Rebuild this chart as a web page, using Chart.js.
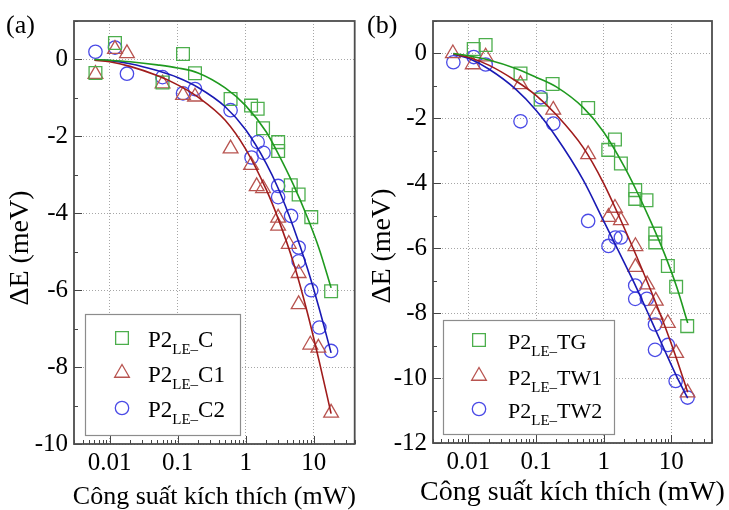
<!DOCTYPE html>
<html>
<head>
<meta charset="utf-8">
<script src="https://cdn.jsdelivr.net/npm/chart.js@4.4.1/dist/chart.umd.min.js"></script>
<style>
  html, body { margin: 0; padding: 0; background: #fff; }
  #wrap { position: relative; width: 729px; height: 510px; }
  canvas { position: absolute; top: 0; }
  #chartA { left: 0; }
  #chartB { left: 365px; }
</style>
</head>
<body>
<div id="wrap">
  <canvas id="chartA" width="365" height="510"></canvas>
  <canvas id="chartB" width="364" height="510"></canvas>
</div>
<script>
// trục hoành (mW, log) và trục tung (meV)
const xTicks = [0.01, 0.1, 1, 10]
const yTicksA = [-10, -8, -6, -4, -2, 0]
const yTicksB = [-12, -10, -8, -6, -4, -2, 0]

// (a) số liệu đo
const aCx  = [0.0062, 0.012, 0.06, 0.12, 0.18, 0.6, 1.2, 1.5, 1.8, 3.0, 3.0, 4.6, 6.0, 9.2, 18]
const aCy  = [-0.35, 0.43, -0.6, 0.14, -0.36, -1.03, -1.2, -1.28, -1.79, -2.15, -2.38, -3.27, -3.51, -4.1, -6.03]
const aC1x = [0.0062, 0.012, 0.018, 0.06, 0.12, 0.18, 0.6, 1.2, 1.45, 1.8, 3.0, 3.0, 4.3, 6.0, 6.0, 8.9, 11.7, 18]
const aC1y = [-0.38, 0.27, 0.16, -0.63, -0.93, -0.97, -2.32, -2.75, -3.3, -3.35, -4.12, -4.33, -4.8, -5.56, -6.37, -7.42, -7.5, -9.19]
const aC2x = [0.0062, 0.012, 0.018, 0.06, 0.12, 0.18, 0.6, 1.22, 1.5, 1.83, 3.0, 3.0, 4.65, 6.0, 6.0, 9.2, 12.1, 18]
const aC2y = [0.2, 0.31, -0.37, -0.46, -0.88, -0.77, -1.32, -2.55, -2.15, -2.43, -3.29, -3.58, -4.07, -4.89, -5.25, -6.0, -6.97, -7.58]

// (a) đường làm khớp
const aFitX  = [0.006, 0.01, 0.02, 0.05, 0.1, 0.2, 0.5, 1, 2, 3, 5, 8, 12, 18]
const aFitC  = [0, -0.02, -0.06, -0.14, -0.22, -0.35, -0.74, -1.2, -1.88, -2.45, -3.25, -4.09, -4.92, -5.94]
const aFitC1 = [-0.02, -0.06, -0.18, -0.42, -0.66, -0.98, -1.58, -2.33, -3.38, -4.14, -5.27, -6.56, -7.84, -9.21]
const aFitC2 = [-0.01, -0.03, -0.11, -0.29, -0.47, -0.73, -1.23, -1.83, -2.7, -3.35, -4.35, -5.41, -6.47, -7.63]

// (b) số liệu đo
const bTGx  = [0.012, 0.018, 0.059, 0.117, 0.176, 0.59, 1.17, 1.47, 1.8, 2.93, 2.93, 4.3, 5.8, 5.8, 8.9, 11.8, 17.2]
const bTGy  = [0.14, 0.26, -0.62, -1.42, -0.94, -1.68, -2.97, -2.65, -3.39, -4.21, -4.48, -4.52, -5.55, -5.82, -6.55, -7.19, -8.4]
const bTW1x = [0.0059, 0.0116, 0.018, 0.059, 0.18, 0.59, 1.18, 1.47, 1.8, 2.95, 2.95, 4.4, 5.9, 5.9, 8.9, 11.8, 17.4]
const bTW1y = [0.0, -0.34, -0.1, -0.95, -1.74, -3.11, -5.04, -4.76, -5.14, -5.94, -6.58, -7.12, -7.62, -8.05, -8.31, -9.23, -10.45]
const bTW2x = [0.006, 0.012, 0.018, 0.059, 0.118, 0.18, 0.59, 1.18, 1.49, 1.8, 2.93, 2.93, 4.35, 5.75, 5.75, 8.9, 11.6, 17.4]
const bTW2y = [-0.27, -0.11, -0.34, -2.09, -1.35, -2.16, -5.16, -5.93, -5.67, -5.67, -7.15, -7.56, -7.56, -8.35, -9.13, -8.98, -10.09, -10.6]

// (b) đường làm khớp
const bFitX   = [0.006, 0.01, 0.02, 0.05, 0.1, 0.2, 0.5, 1, 2, 3, 5, 8, 12, 17.5]
const bFitTG  = [0, -0.07, -0.2, -0.46, -0.73, -1.03, -1.67, -2.42, -3.47, -4.19, -5.19, -6.19, -7.19, -8.3]
const bFitTW1 = [-0.01, -0.12, -0.36, -0.84, -1.29, -1.89, -2.9, -4.0, -5.36, -6.2, -7.31, -8.39, -9.41, -10.44]
const bFitTW2 = [-0.02, -0.15, -0.48, -1.1, -1.75, -2.58, -3.9, -5.16, -6.43, -7.18, -8.2, -9.15, -9.95, -10.62]

const GREEN = '#4cae4c', GREEN_LINE = '#1f9a1f'
const RED = '#b85450', RED_LINE = '#a01c1c'
const BLUE = '#4a4ae6', BLUE_LINE = '#1a1ab4'
const SERIF = '"Liberation Serif", "Times New Roman", serif'

const zip = (xs, ys) => xs.map((x, i) => ({ x: x, y: ys[i] }))

function pointSet(xs, ys, color, style, r) {
  return {
    data: zip(xs, ys), showLine: false,
    pointStyle: style, pointRadius: r, pointHoverRadius: r,
    pointBorderColor: color, pointBackgroundColor: 'rgba(0,0,0,0)', pointBorderWidth: 1.3
  }
}
function fitSet(xs, ys, color) {
  return {
    data: zip(xs, ys), showLine: true, pointRadius: 0,
    borderColor: color, borderWidth: 1.6, cubicInterpolationMode: 'monotone'
  }
}

function marker(ctx, style, x, y, r) {
  ctx.beginPath()
  if (style === 'rect') {
    const h = r * Math.SQRT1_2
    ctx.rect(x - h, y - h, 2 * h, 2 * h)
  } else if (style === 'triangle') {
    ctx.moveTo(x, y - r)
    ctx.lineTo(x + r * 0.866, y + r * 0.5)
    ctx.lineTo(x - r * 0.866, y + r * 0.5)
    ctx.closePath()
  } else {
    ctx.arc(x, y, r, 0, Math.PI * 2)
  }
  ctx.stroke()
}

// khung, vạch chia phụ, nhãn trục, chú thích
function decor(cfg) {
  return {
    id: 'decor',
    afterDatasetsDraw(chart) {
      const ctx = chart.ctx
      const a = chart.chartArea
      const xs = chart.scales.x, ys = chart.scales.y
      ctx.save()

      // vạch chia hướng vào trong
      ctx.strokeStyle = '#444'
      ctx.lineWidth = 1
      ctx.beginPath()
      for (let e = -3; e <= 1; e++) {
        for (let m = 1; m <= 9; m++) {
          const v = m * Math.pow(10, e)
          if (v < xs.min || v > xs.max) continue
          const px = Math.round(xs.getPixelForValue(v)) + 0.5
          const len = m === 1 ? 8 : 4
          ctx.moveTo(px, a.bottom)
          ctx.lineTo(px, a.bottom - len)
        }
      }
      for (let v = Math.ceil(ys.min); v <= Math.floor(ys.max); v++) {
        const py = Math.round(ys.getPixelForValue(v)) + 0.5
        const len = v % 2 === 0 ? 8 : 4
        ctx.moveTo(a.left, py)
        ctx.lineTo(a.left + len, py)
      }
      ctx.stroke()

      // khung
      ctx.strokeStyle = '#4d4d4d'
      ctx.lineWidth = 1.8
      ctx.strokeRect(a.left, a.top, a.right - a.left, a.bottom - a.top)

      // chú thích
      const L = cfg.legend
      const bx = a.left + L.dx, by = a.bottom - L.dy
      ctx.fillStyle = '#fff'
      ctx.fillRect(bx, by, L.w, L.h)
      ctx.strokeStyle = '#8c8c8c'
      ctx.lineWidth = 1.2
      ctx.strokeRect(bx + 0.5, by + 0.5, L.w, L.h)
      L.items.forEach((it, i) => {
        const ry = by + L.rows[i]
        ctx.strokeStyle = it.color
        ctx.lineWidth = 1.3
        marker(ctx, it.style, bx + L.mx, ry, it.r)
        ctx.fillStyle = '#000'
        ctx.textBaseline = 'alphabetic'
        ctx.textAlign = 'left'
        let tx = bx + L.tx
        ctx.font = L.size + 'px ' + SERIF
        ctx.fillText('P2', tx, ry + 8.5)
        tx += ctx.measureText('P2').width
        ctx.font = L.sub + 'px ' + SERIF
        ctx.fillText('LE–', tx, ry + 15.5)
        tx += ctx.measureText('LE–').width
        ctx.font = L.size + 'px ' + SERIF
        ctx.fillText(it.name, tx, ry + 8.5)
      })

      // tên trục và nhãn hình
      ctx.fillStyle = '#000'
      ctx.font = cfg.titleSize + 'px ' + SERIF
      ctx.textAlign = 'center'
      ctx.fillText('Công suất kích thích (mW)', (a.left + a.right) / 2, cfg.xTitleY)
      ctx.save()
      ctx.translate(cfg.yTitleX, cfg.yTitleY)
      ctx.rotate(-Math.PI / 2)
      ctx.textBaseline = 'middle'
      ctx.font = '28px ' + SERIF
      ctx.fillText('ΔE (meV)', 0, 0)
      ctx.restore()
      ctx.font = '26px ' + SERIF
      ctx.textAlign = 'left'
      ctx.textBaseline = 'middle'
      ctx.fillText(cfg.tag, cfg.tagX, 26)

      ctx.restore()
    }
  }
}

function makeChart(id, datasets, yMin, yTicks, pad, yWidth, xHeight, cfg) {
  return new Chart(document.getElementById(id), {
    type: 'scatter',
    data: { datasets: datasets },
    options: {
      responsive: false,
      animation: false,
      devicePixelRatio: 1,
      layout: { padding: pad },
      plugins: { legend: { display: false }, tooltip: { enabled: false } },
      scales: {
        x: {
          type: 'logarithmic', min: 0.003, max: 40,
          afterBuildTicks: s => { s.ticks = xTicks.map(v => ({ value: v })) },
          afterFit: s => { s.height = xHeight },
          ticks: {
            autoSkip: false, maxRotation: 0, padding: 4, color: '#000',
            font: { family: SERIF, size: 25 },
            callback: v => String(v)
          },
          grid: { color: '#a6a6a6', lineWidth: 1, drawTicks: false },
          border: { display: false, dash: [1, 2] }
        },
        y: {
          min: yMin, max: 1,
          afterBuildTicks: s => { s.ticks = yTicks.map(v => ({ value: v })) },
          afterFit: s => { s.width = yWidth },
          ticks: {
            padding: 6, color: '#000',
            font: { family: SERIF, size: 25 },
            callback: v => String(v)
          },
          grid: { color: '#a6a6a6', lineWidth: 1, drawTicks: false },
          border: { display: false, dash: [1, 2] }
        }
      }
    },
    plugins: [decor(cfg)]
  })
}

makeChart('chartA', [
  fitSet(aFitX, aFitC, GREEN_LINE),
  fitSet(aFitX, aFitC1, RED_LINE),
  fitSet(aFitX, aFitC2, BLUE_LINE),
  pointSet(aCx, aCy, GREEN, 'rect', 9),
  pointSet(aC1x, aC1y, RED, 'triangle', 8.5),
  pointSet(aC2x, aC2y, BLUE, 'circle', 6.7)
], -10, yTicksA, { left: 0, right: 8, top: 13, bottom: 0 }, 74, 66, {
  tag: '(a)', tagX: 6, titleSize: 26, xTitleY: 504, yTitleX: 21, yTitleY: 248,
  legend: {
    dx: 11, dy: 130, w: 155, h: 121, rows: [24, 59, 94], mx: 37, tx: 63, size: 23, sub: 15,
    items: [
      { name: 'C', color: GREEN, style: 'rect', r: 9 },
      { name: 'C1', color: RED, style: 'triangle', r: 8.5 },
      { name: 'C2', color: BLUE, style: 'circle', r: 6.7 }
    ]
  }
})

makeChart('chartB', [
  fitSet(bFitX, bFitTG, GREEN_LINE),
  fitSet(bFitX, bFitTW1, RED_LINE),
  fitSet(bFitX, bFitTW2, BLUE_LINE),
  pointSet(bTGx, bTGy, GREEN, 'rect', 9),
  pointSet(bTW1x, bTW1y, RED, 'triangle', 8.5),
  pointSet(bTW2x, bTW2y, BLUE, 'circle', 6.7)
], -12, yTicksB, { left: 0, right: 17, top: 14, bottom: 0 }, 68, 67, {
  tag: '(b)', tagX: 2, titleSize: 28, xTitleY: 500, yTitleX: 18, yTitleY: 246,
  legend: {
    dx: 10, dy: 123, w: 171, h: 114, rows: [20, 56, 89], mx: 36, tx: 65, size: 22, sub: 15,
    items: [
      { name: 'TG', color: GREEN, style: 'rect', r: 9 },
      { name: 'TW1', color: RED, style: 'triangle', r: 8.5 },
      { name: 'TW2', color: BLUE, style: 'circle', r: 6.7 }
    ]
  }
})
</script>
</body>
</html>
